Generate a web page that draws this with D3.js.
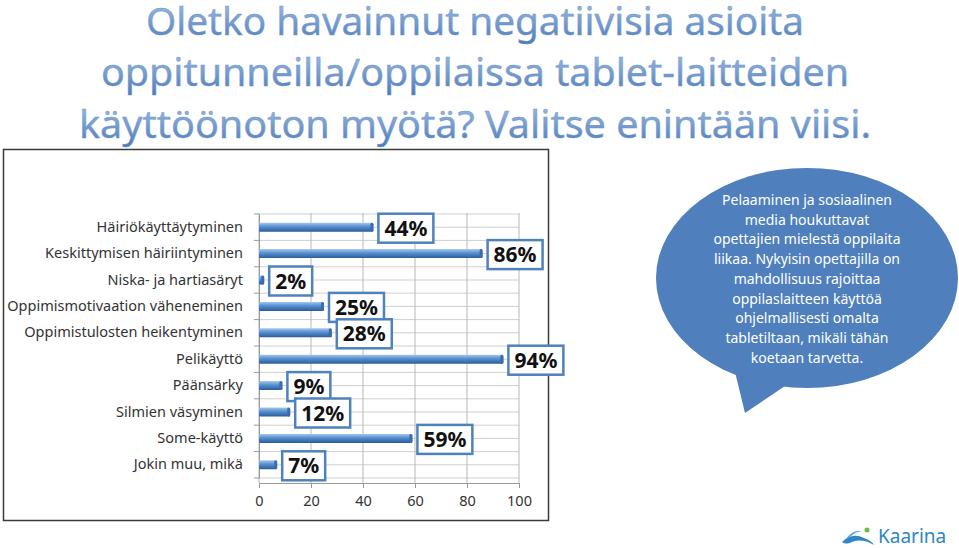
<!DOCTYPE html>
<html>
<head>
<meta charset="utf-8">
<script src="https://cdn.jsdelivr.net/npm/d3@7"></script>
<style>
  body { margin: 0; background: #fff; }
  svg { display: block; font-family: "Noto Sans", sans-serif; }
</style>
</head>
<body>
<svg id="chart" width="959" height="548"></svg>
<script>
// chart data
var titleLines = ["Oletko havainnut negatiivisia asioita",
                  "oppitunneilla/oppilaissa tablet-laitteiden",
                  "käyttöönoton myötä? Valitse enintään viisi."];
var categories = ["Häiriökäyttäytyminen", "Keskittymisen häiriintyminen", "Niska- ja hartiasäryt",
                  "Oppimismotivaation väheneminen", "Oppimistulosten heikentyminen", "Pelikäyttö",
                  "Päänsärky", "Silmien väsyminen", "Some-käyttö", "Jokin muu, mikä"];
var values = [44, 86, 2, 25, 28, 94, 9, 12, 59, 7];
var xTicks = [0, 20, 40, 60, 80, 100];
var bubbleLines = ["Pelaaminen ja sosiaalinen", "media houkuttavat", "opettajien mielestä oppilaita",
                   "liikaa. Nykyisin opettajilla on", "mahdollisuus rajoittaa", "oppilaslaitteen käyttöä",
                   "ohjelmallisesti omalta", "tabletiltaan, mikäli tähän", "koetaan tarvetta."];

var FONT = "'Noto Sans', sans-serif";
var svg = d3.select("#chart");
var defs = svg.append("defs");

// title gradient
var tg = defs.append("linearGradient").attr("id", "titleGrad")
  .attr("x1", 0).attr("y1", 0).attr("x2", 0).attr("y2", 1);
tg.append("stop").attr("offset", "0%").attr("stop-color", "#a9c6ea");
tg.append("stop").attr("offset", "100%").attr("stop-color", "#4a78b8");

// bar gradient (cylinder look)
var bg = defs.append("linearGradient").attr("id", "barGrad")
  .attr("x1", 0).attr("y1", 0).attr("x2", 0).attr("y2", 1);
bg.append("stop").attr("offset", "0%").attr("stop-color", "#a6c9f0");
bg.append("stop").attr("offset", "40%").attr("stop-color", "#5b93d4");
bg.append("stop").attr("offset", "100%").attr("stop-color", "#2a5c99");

// title
var titleW = [658, 748, 792];
var titleY = [35, 86, 138];
svg.append("g").selectAll("text")
  .data(titleLines)
  .enter().append("text")
    .attr("x", 475)
    .attr("y", function(d, i) { return titleY[i]; })
    .attr("text-anchor", "middle")
    .attr("font-size", 38)
    .attr("textLength", function(d, i) { return titleW[i]; })
    .attr("lengthAdjust", "spacingAndGlyphs")
    .attr("fill", "url(#titleGrad)")
    .attr("stroke", "#7196cc")
    .attr("stroke-width", 0.4)
    .text(function(d) { return d; });

// chart frame
svg.append("rect")
  .attr("x", 3.5).attr("y", 149.5).attr("width", 545).attr("height", 371)
  .attr("fill", "#fff").attr("stroke", "#3a3a3a").attr("stroke-width", 1.5);

var x = d3.scaleLinear().domain([0, 100]).range([259, 519]);
var y = d3.scaleBand().domain(categories).range([214, 478]);

// grid lines
var grid = svg.append("g");
var hLines = d3.range(0, categories.length * 2 + 1).map(function(k) {
  return y.range()[0] + k * y.step() / 2;
});
grid.selectAll("line.h")
  .data(hLines)
  .enter().append("line")
    .attr("class", "h")
    .attr("x1", x(0)).attr("x2", x(100))
    .attr("y1", function(d) { return d; }).attr("y2", function(d) { return d; })
    .attr("stroke", "#cfcfcf").attr("stroke-width", 1);
grid.selectAll("line.v")
  .data(xTicks)
  .enter().append("line")
    .attr("class", "v")
    .attr("x1", function(d) { return x(d); }).attr("x2", function(d) { return x(d); })
    .attr("y1", 213).attr("y2", 483)
    .attr("stroke", "#b8b8b8").attr("stroke-width", 1);

// y axis
var yAxis = svg.append("g")
  .attr("transform", "translate(" + x(0) + ",0)")
  .call(d3.axisLeft(y).tickSize(0).tickPadding(16));
yAxis.attr("font-family", FONT);
yAxis.select(".domain").attr("stroke", "#999");
yAxis.selectAll("text").attr("font-size", 14.5).attr("fill", "#333");
// boundary ticks
svg.append("g").selectAll("line")
  .data(d3.range(0, categories.length + 1))
  .enter().append("line")
    .attr("x1", x(0) - 5).attr("x2", x(0))
    .attr("y1", function(d) { return y.range()[0] + d * y.step(); })
    .attr("y2", function(d) { return y.range()[0] + d * y.step(); })
    .attr("stroke", "#999");

// x axis
var xAxis = svg.append("g")
  .attr("transform", "translate(0,483)")
  .call(d3.axisBottom(x).tickValues(xTicks).tickSize(5).tickPadding(8));
xAxis.attr("font-family", FONT);
xAxis.select(".domain").attr("stroke", "#999");
xAxis.selectAll("line").attr("stroke", "#999");
xAxis.selectAll("text").attr("font-size", 14.5).attr("fill", "#333");

// bars
var bars = svg.append("g");
bars.selectAll("rect.bar")
  .data(values)
  .enter().append("rect")
    .attr("class", "bar")
    .attr("x", x(0))
    .attr("y", function(d, i) { return y(categories[i]) + y.bandwidth() / 2 - 4.5; })
    .attr("width", function(d) { return x(d) - x(0); })
    .attr("height", 9)
    .attr("rx", 1.5)
    .attr("fill", "url(#barGrad)");
// end caps
bars.selectAll("rect.cap")
  .data(values)
  .enter().append("rect")
    .attr("class", "cap")
    .attr("x", function(d) { return x(d) - 3; })
    .attr("y", function(d, i) { return y(categories[i]) + y.bandwidth() / 2 - 4.5; })
    .attr("width", 3)
    .attr("height", 9)
    .attr("rx", 1.5)
    .attr("fill", "#3c6dab");

// value labels
var labels = svg.append("g");
values.forEach(function(v, i) {
  var cy = y(categories[i]) + y.bandwidth() / 2 + 1;
  var g = labels.append("g");
  var box = g.append("rect");
  var t = g.append("text")
    .attr("font-size", 21)
    .attr("font-weight", "bold")
    .attr("fill", "#111")
    .text(v + "%");
  var w = t.node().getComputedTextLength() + 12;
  var bx = x(v) + 5;
  box.attr("x", bx).attr("y", cy - 14.5).attr("width", w).attr("height", 29)
    .attr("fill", "#fff").attr("stroke", "#4f81bd").attr("stroke-width", 2.5);
  t.attr("x", bx + w / 2).attr("y", cy + 7.5).attr("text-anchor", "middle");
});

// speech bubble
var bubble = svg.append("g");
bubble.append("path")
  .attr("d", "M735,372 L745,413 L788,384 Z")
  .attr("fill", "#4f80bd");
bubble.append("ellipse")
  .attr("cx", 807).attr("cy", 278).attr("rx", 151).attr("ry", 110)
  .attr("fill", "#4f80bd");
bubble.selectAll("text")
  .data(bubbleLines)
  .enter().append("text")
    .attr("x", 807)
    .attr("y", function(d, i) { return 205 + i * 19.7; })
    .attr("text-anchor", "middle")
    .attr("font-size", 14)
    .attr("fill", "#fff")
    .text(function(d) { return d; });

// logo
var logo = svg.append("g");
logo.append("path")
  .attr("d", "M842,542 Q852,532 864,538 Q872,541 874,545 Q862,538 852,542 Q846,545 842,542 Z")
  .attr("fill", "#2f86c4");
logo.append("path")
  .attr("d", "M846,539 Q854,528 862,532 Q856,531 850,537 Z")
  .attr("fill", "#5aa6dc");
logo.append("circle").attr("cx", 867).attr("cy", 530).attr("r", 2.5).attr("fill", "#6dbb45");
logo.append("text")
  .attr("x", 878).attr("y", 543)
  .attr("font-size", 19)
  .attr("fill", "#2e86c1")
  .text("Kaarina");
</script>
</body>
</html>
